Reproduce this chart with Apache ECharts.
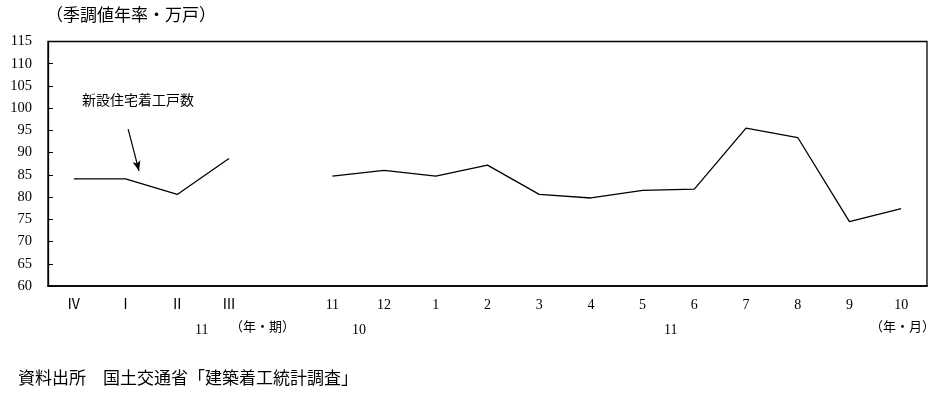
<!DOCTYPE html>
<html><head><meta charset="utf-8">
<script src="https://cdn.jsdelivr.net/npm/echarts@6/dist/echarts.min.js"></script>
<style>html,body{margin:0;padding:0;background:#fff}#c{width:948px;height:393px}</style>
</head><body><div id="c"></div>
<script>
const categories = ['Ⅳ','Ⅰ','Ⅱ','Ⅲ','','11','12','1','2','3','4','5','6','7','8','9','10'];
const starts = [84.1, 84.1, 80.6, 88.7, null, 84.7, 86.0, 84.7, 87.2, 80.6, 79.8, 81.5, 81.8, 95.5, 93.4, 74.5, 77.4];
const yTicks = {min: 60, max: 115, interval: 5};
const arrowFrom = [1.05, 95.3];
const arrowTo = [1.26, 85.9];

const FONT = '"Liberation Serif","Noto Sans CJK JP",serif';
const chart = echarts.init(document.getElementById('c'));
chart.setOption({
  animation: false,
  grid: {left: 48, right: 21, top: 41.5, bottom: 107, show: true, borderColor: '#000', borderWidth: 1.3, containLabel: false},
  xAxis: [{
    type: 'category', data: categories, boundaryGap: true,
    axisLine: {show: true, onZero: false, lineStyle: {color: '#000', width: 1.6}},
    axisTick: {show: false},
    axisLabel: {color: '#000', fontFamily: FONT, fontSize: 14, margin: 12, interval: 0}
  }, {
    type: 'value', min: -0.5, max: 16.5, show: false
  }],
  yAxis: {
    type: 'value', min: yTicks.min, max: yTicks.max, interval: yTicks.interval,
    axisLine: {show: true, onZero: false, lineStyle: {color: '#000', width: 1.3}},
    axisTick: {show: true, inside: true, length: 5, lineStyle: {color: '#000', width: 1}},
    splitLine: {show: false},
    axisLabel: {color: '#000', fontFamily: FONT, fontSize: 14.5, margin: 16}
  },
  series: [{
    type: 'line', data: starts, connectNulls: false, symbol: 'none',
    lineStyle: {color: '#000', width: 1.3}
  }, {
    type: 'line', xAxisIndex: 1, data: [], symbol: 'none',
    markLine: {
      silent: true, symbol: ['none', 'arrow'], symbolSize: [6, 10],
      lineStyle: {color: '#000', width: 1.2, type: 'solid'}, label: {show: false},
      data: [[{coord: arrowFrom}, {coord: arrowTo}]]
    }
  }],
  graphic: [
    {type: 'text', left: 46, top: 8, style: {text: '（季調値年率・万戸）', font: '17px ' + FONT, fill: '#000'}},
    {type: 'text', left: 82, top: 94, style: {text: '新設住宅着工戸数', font: '14px ' + FONT, fill: '#000'}},
    {type: 'text', left: 195, top: 323, style: {text: '11', font: '14px ' + FONT, fill: '#000'}},
    {type: 'text', left: 230, top: 321, style: {text: '（年・期）', font: '13px ' + FONT, fill: '#000'}},
    {type: 'text', left: 352, top: 323, style: {text: '10', font: '14px ' + FONT, fill: '#000'}},
    {type: 'text', left: 664, top: 323, style: {text: '11', font: '14px ' + FONT, fill: '#000'}},
    {type: 'text', left: 870, top: 321, style: {text: '（年・月）', font: '13px ' + FONT, fill: '#000'}},
    {type: 'text', left: 18, top: 371, style: {text: '資料出所　国土交通省「建築着工統計調査」', font: '17px ' + FONT, fill: '#000'}}
  ]
});
</script></body></html>
